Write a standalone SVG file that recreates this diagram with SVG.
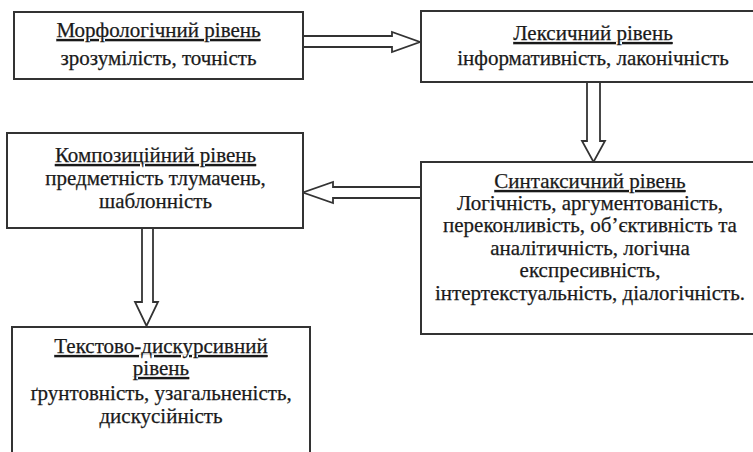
<svg xmlns="http://www.w3.org/2000/svg" width="753" height="452" viewBox="0 0 753 452">
<style>
.box{fill:#fff;stroke:#333;stroke-width:2}
.arr{fill:#fff;stroke:#333;stroke-width:1.8;stroke-linejoin:miter}
text{font-family:"Liberation Serif","DejaVu Serif",serif;font-size:21px;fill:#1a1a1a;text-anchor:middle;stroke:#1a1a1a;stroke-width:0.25}
.t{text-decoration:underline}
</style>
<rect width="753" height="452" fill="#fff"/>
<g id="connectors">
<path class="arr" d="M303,36 H392 V32 L420,42 L392,52 V47 H303 Z"/>
<path class="arr" d="M587,82 V141 H582 L593.5,162 L605,141 H600 V82 Z"/>
<path class="arr" d="M421,187 H333 V182 L303,192.5 L333,203 V198 H421 Z"/>
<path class="arr" d="M142,228 V302 H135 L146.5,326 L158,302 H153 V228 Z"/>
</g>
<g id="morph">
<rect class="box" x="14" y="12" width="289" height="67"/>
<text class="t" x="158.5" y="37">Морфологічний рівень</text>
<text x="158.5" y="65">зрозумілість,  точність</text>
</g>
<g id="lex">
<rect class="box" x="421" y="11" width="345" height="71"/>
<text class="t" x="593" y="40">Лексичний рівень</text>
<text x="593" y="65">інформативність, лаконічність</text>
</g>
<g id="comp">
<rect class="box" x="7" y="133" width="296" height="95"/>
<text class="t" x="155.5" y="162">Композиційний рівень</text>
<text x="155.5" y="185">предметність тлумачень,</text>
<text x="155.5" y="208">шаблонність</text>
</g>
<g id="synt">
<rect class="box" x="421" y="162" width="345" height="172"/>
<text class="t" x="590" y="188">Синтаксичний рівень</text>
<text x="590" y="210">Логічність, аргументованість,</text>
<text x="590" y="232">переконливість, об’єктивність та</text>
<text x="590" y="255">аналітичність, логічна</text>
<text x="590" y="277">експресивність,</text>
<text x="590" y="300">інтертекстуальність, діалогічність.</text>
</g>
<g id="text-disc">
<rect class="box" x="12" y="327" width="298" height="140"/>
<text class="t" x="161" y="353">Текстово-дискурсивний</text>
<text class="t" x="161" y="375">рівень</text>
<text x="161" y="400">ґрунтовність, узагальненість,</text>
<text x="161" y="423">дискусійність</text>
</g>
</svg>
